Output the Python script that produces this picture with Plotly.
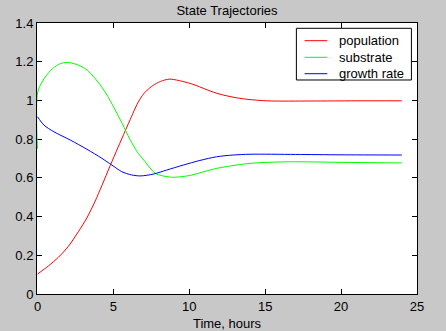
import plotly.graph_objects as go

# Simulated state trajectories of a batch bioreactor model
t_pop = [0, 0.72, 1.38, 2.04, 2.70, 3.25, 3.80, 4.24, 4.8, 5.29, 5.79, 6.2, 6.56, 6.9, 7.22, 7.6,
         8.1, 8.7, 10.05, 11.8, 13.3, 15.1, 18, 21, 24]
population = [0.103, 0.145, 0.190, 0.247, 0.323, 0.393, 0.480, 0.560, 0.665, 0.755, 0.845, 0.918,
              0.980, 1.025, 1.053, 1.077, 1.098, 1.110, 1.088, 1.037, 1.011, 0.998, 0.997, 0.998,
              0.998]

t_sub = [0, 0.02, 0.5, 1.0, 1.5, 1.95, 2.6, 3.27, 4.37, 5.46, 6.12, 6.56, 7.0, 7.77, 8.53, 9.0,
         10.0, 11.8, 14.0, 16.6, 20, 24]
substrate = [0.75, 1.045, 1.12, 1.165, 1.19, 1.197, 1.185, 1.157, 1.054, 0.899, 0.795, 0.735,
             0.692, 0.623, 0.606, 0.603, 0.612, 0.649, 0.675, 0.683, 0.680, 0.677]

t_gr = [0, 0.42, 1.08, 2.17, 3.25, 4.24, 4.9, 5.55, 6.2, 6.8, 7.66, 8.5, 9.6, 10.7, 11.8, 12.9,
        14, 17, 20, 24]
growth_rate = [0.916, 0.873, 0.838, 0.795, 0.748, 0.701, 0.666, 0.632, 0.615, 0.610, 0.620, 0.640,
               0.666, 0.690, 0.709, 0.718, 0.722, 0.721, 0.719, 0.718]

x_ticks = [0, 5, 10, 15, 20, 25]
y_ticks = [0, 0.2, 0.4, 0.6, 0.8, 1, 1.2, 1.4]
y_tick_text = ["0", "0.2", "0.4", "0.6", "0.8", "1", "1.2", "1.4"]

series = [
    (t_pop, population, "population", "#ff0000"),
    (t_sub, substrate, "substrate", "#00ff00"),
    (t_gr, growth_rate, "growth rate", "#0000ff"),
]

FONT = "Liberation Sans, Arial, sans-serif"

fig = go.Figure()
for x, y, name, color in series:
    fig.add_trace(go.Scatter(x=x, y=y, mode="lines", name=name, showlegend=False,
                             line=dict(color=color, width=1, shape="spline", smoothing=0.8)))

# Compact boxed legend in the upper-right corner of the axes
box_x0, box_x1, box_y0, box_y1 = 0.6826, 0.9853, 0.7897, 0.9804
row_y = [0.9347, 0.8734, 0.8129]
sample_x0, sample_x1, text_x = 0.7042, 0.7639, 0.7884
fig.add_shape(type="rect", xref="paper", yref="paper", x0=box_x0, x1=box_x1, y0=box_y0, y1=box_y1,
              line=dict(color="black", width=1), fillcolor="white", layer="above")
for (_, _, name, color), ry in zip(series, row_y):
    fig.add_shape(type="line", xref="paper", yref="paper", x0=sample_x0, x1=sample_x1, y0=ry, y1=ry,
                  line=dict(color=color, width=1), layer="above")
    fig.add_annotation(text=name, xref="paper", yref="paper", x=text_x, y=ry, xanchor="left",
                       yanchor="middle", showarrow=False,
                       font=dict(family=FONT, size=13, color="black"))

axis_common = dict(
    showgrid=False, zeroline=False, showline=True, linecolor="black", linewidth=1,
    mirror="ticks", ticks="inside", ticklen=5, tickcolor="black", tickwidth=1,
    layer="below traces", automargin=False,
    tickfont=dict(family=FONT, size=13, color="black"),
)

fig.update_layout(
    width=446, height=331,
    margin=dict(l=37, r=29, t=23, b=37),
    paper_bgcolor="#c8c8c8", plot_bgcolor="white",
    font=dict(family=FONT, size=13, color="black"),
    title=dict(text="State Trajectories", x=0.5, xref="paper", y=1 - 10 / 331,
               yref="container", yanchor="middle", xanchor="center",
               font=dict(family=FONT, size=13, color="black")),
    xaxis=dict(range=[-0.033, 25], tickvals=x_ticks,
               title=dict(text="Time, hours", standoff=7, font=dict(family=FONT, size=13)),
               **axis_common),
    yaxis=dict(range=[0, 1.4], tickvals=y_ticks, ticktext=y_tick_text, **axis_common),
    showlegend=False,
)

fig.write_html("out.html")
